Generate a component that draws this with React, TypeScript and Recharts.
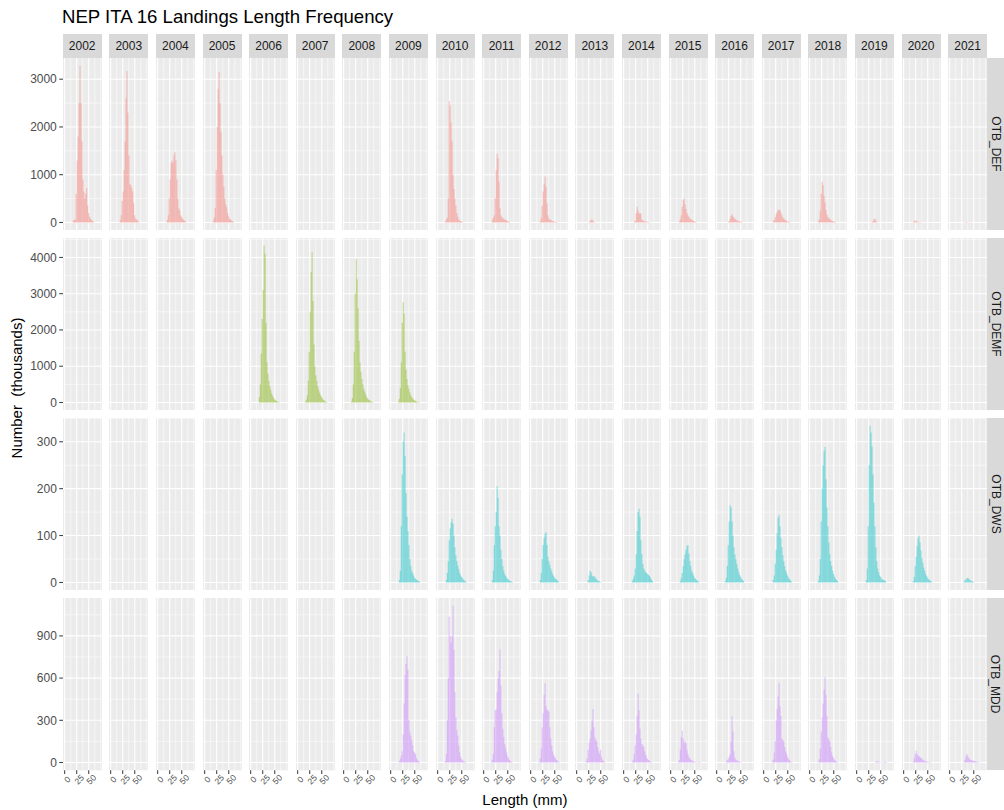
import React from "react";
import { BarChart, Bar, XAxis, YAxis, CartesianGrid } from "recharts";

// facets
const YEARS = [2002, 2003, 2004, 2005, 2006, 2007, 2008, 2009, 2010, 2011,
  2012, 2013, 2014, 2015, 2016, 2017, 2018, 2019, 2020, 2021];
const GEARS = ["OTB_DEF", "OTB_DEMF", "OTB_DWS", "OTB_MDD"];

// length classes (mm), 2 mm bins
const LENGTHS = [16, 18, 20, 22, 24, 26, 28, 30, 32, 34, 36, 38, 40, 42, 44, 46, 48, 50, 52, 54, 56, 58, 60, 62];

// numbers (thousands) per length class
const OTB_DEF: Record<number, number[]> = {
  2002: [0, 40, 50, 60, 600, 1300, 1800, 2500, 3280, 2500, 1700, 900, 650, 500, 600, 720, 350, 200, 120, 80, 50, 30, 20, 0],
  2003: [0, 0, 50, 150, 450, 650, 1100, 1700, 2600, 3170, 2300, 1400, 800, 780, 720, 650, 400, 150, 80, 60, 40, 20, 0, 0],
  2004: [0, 0, 50, 150, 500, 900, 1250, 1300, 1250, 1400, 1470, 1300, 900, 500, 300, 250, 150, 120, 80, 60, 40, 20, 0, 0],
  2005: [0, 30, 100, 300, 1100, 2000, 2800, 3150, 2500, 1900, 1400, 1000, 750, 500, 380, 320, 200, 130, 80, 60, 40, 30, 10, 0],
  2010: [20, 60, 100, 500, 2540, 2450, 2100, 1700, 1000, 700, 500, 350, 200, 120, 60, 40, 30, 20, 10, 0, 0, 0, 0, 0],
  2011: [0, 40, 100, 150, 500, 1100, 1440, 1350, 850, 300, 150, 120, 90, 70, 60, 50, 40, 30, 20, 10, 0, 0, 0, 0],
  2012: [0, 0, 30, 100, 350, 650, 800, 960, 750, 400, 150, 80, 60, 50, 40, 30, 20, 20, 10, 10, 5, 0, 0, 0],
  2013: [0, 0, 0, 0, 0, 10, 30, 55, 60, 40, 15, 5, 0, 0, 0, 0, 0, 0, 0, 0, 0, 0, 0, 0],
  2014: [0, 0, 0, 10, 40, 200, 330, 250, 180, 200, 180, 60, 40, 30, 25, 20, 15, 10, 10, 5, 0, 0, 0, 0],
  2015: [0, 20, 60, 150, 330, 470, 500, 380, 280, 200, 150, 120, 90, 70, 50, 40, 30, 20, 10, 5, 0, 0, 0, 0],
  2016: [0, 0, 0, 0, 10, 30, 80, 140, 170, 130, 100, 80, 60, 45, 35, 25, 20, 15, 10, 5, 0, 0, 0, 0],
  2017: [0, 0, 20, 50, 110, 170, 220, 260, 270, 260, 210, 150, 110, 80, 60, 45, 30, 20, 15, 10, 5, 0, 0, 0],
  2018: [0, 20, 60, 250, 600, 850, 780, 560, 420, 260, 170, 120, 90, 70, 50, 40, 30, 20, 15, 10, 0, 0, 0, 0],
  2019: [0, 0, 0, 0, 0, 0, 0, 0, 10, 30, 70, 80, 40, 15, 5, 0, 0, 0, 0, 0, 0, 0, 0, 0],
  2020: [0, 0, 10, 25, 40, 35, 20, 10, 8, 5, 5, 3, 0, 0, 0, 0, 0, 0, 0, 0, 0, 0, 0, 0],
  2021: [0, 0, 0, 0, 0, 0, 0, 3, 5, 8, 8, 6, 5, 4, 3, 2, 0, 0, 0, 0, 0, 0, 0, 0],
};

const OTB_DEMF: Record<number, number[]> = {
  2006: [0, 150, 500, 1350, 2300, 3100, 4320, 4100, 2200, 1100, 800, 600, 450, 350, 250, 180, 120, 80, 60, 40, 25, 15, 5, 0],
  2007: [30, 80, 200, 600, 1400, 2500, 3600, 4150, 2800, 1600, 1000, 750, 600, 450, 350, 270, 200, 150, 100, 70, 50, 30, 15, 5],
  2008: [30, 120, 500, 1400, 3000, 3960, 3400, 2600, 1700, 1100, 850, 650, 500, 380, 300, 220, 160, 110, 80, 60, 40, 25, 15, 5],
  2009: [20, 100, 400, 1100, 2200, 2770, 2450, 1400, 900, 650, 480, 380, 280, 200, 150, 110, 80, 60, 40, 30, 20, 10, 5, 0],
};

const OTB_DWS: Record<number, number[]> = {
  2009: [0, 5, 25, 120, 230, 300, 320, 270, 190, 140, 110, 80, 50, 35, 25, 20, 15, 10, 8, 6, 4, 3, 2, 0],
  2010: [0, 5, 20, 45, 90, 115, 128, 136, 126, 100, 75, 58, 46, 36, 28, 20, 15, 12, 9, 6, 4, 2, 1, 0],
  2011: [0, 5, 25, 80, 120, 150, 205, 180, 120, 100, 70, 50, 35, 25, 18, 14, 10, 8, 6, 4, 3, 2, 1, 0],
  2012: [0, 0, 5, 20, 50, 80, 95, 104, 107, 80, 55, 45, 38, 30, 24, 18, 14, 10, 8, 6, 4, 2, 0, 0],
  2013: [0, 0, 0, 0, 5, 15, 25, 22, 15, 12, 14, 12, 9, 6, 4, 3, 2, 1, 0, 0, 0, 0, 0, 0],
  2014: [0, 3, 8, 15, 30, 60, 110, 150, 157, 140, 90, 60, 40, 30, 25, 22, 20, 18, 16, 14, 10, 6, 3, 0],
  2015: [0, 0, 3, 10, 20, 35, 50, 60, 70, 78, 80, 62, 45, 35, 25, 20, 15, 10, 8, 5, 3, 2, 0, 0],
  2016: [0, 3, 10, 35, 80, 130, 165, 160, 130, 100, 75, 60, 50, 40, 30, 22, 16, 12, 8, 5, 3, 0, 0, 0],
  2017: [0, 0, 5, 15, 40, 70, 105, 138, 144, 120, 95, 75, 58, 45, 35, 26, 20, 15, 10, 7, 4, 2, 0, 0],
  2018: [0, 3, 15, 50, 130, 200, 250, 280, 289, 220, 160, 120, 85, 60, 45, 35, 25, 18, 12, 8, 5, 3, 0, 0],
  2019: [0, 0, 5, 30, 120, 250, 334, 320, 290, 230, 170, 120, 75, 45, 30, 22, 15, 12, 8, 6, 5, 4, 3, 0],
  2020: [0, 0, 3, 12, 35, 55, 78, 95, 100, 85, 68, 52, 42, 32, 25, 18, 14, 10, 7, 5, 3, 2, 0, 0],
  2021: [0, 0, 0, 0, 0, 0, 0, 2, 4, 7, 9, 10, 8, 5, 4, 3, 2, 1, 0, 0, 0, 0, 0, 0],
};

const OTB_MDD: Record<number, number[]> = {
  2009: [0, 10, 25, 50, 80, 200, 420, 620, 700, 757, 660, 300, 220, 190, 160, 120, 80, 70, 60, 30, 15, 8, 4, 0],
  2010: [10, 60, 300, 600, 1036, 900, 850, 900, 1114, 800, 500, 320, 230, 190, 120, 70, 40, 25, 15, 10, 6, 4, 2, 0],
  2011: [5, 20, 60, 250, 370, 380, 500, 600, 650, 805, 550, 350, 240, 180, 130, 100, 70, 45, 30, 18, 10, 5, 2, 0],
  2012: [0, 5, 30, 100, 250, 350, 480, 564, 400, 370, 375, 360, 250, 170, 120, 80, 55, 40, 28, 18, 10, 5, 2, 0],
  2013: [0, 0, 10, 30, 90, 140, 170, 230, 300, 381, 250, 180, 160, 150, 110, 80, 60, 90, 40, 20, 10, 5, 0, 0],
  2014: [0, 5, 20, 60, 120, 200, 330, 488, 370, 240, 170, 130, 120, 110, 80, 55, 35, 25, 18, 12, 6, 3, 0, 0],
  2015: [5, 20, 90, 180, 226, 170, 140, 150, 135, 90, 60, 40, 30, 20, 15, 10, 8, 5, 3, 2, 2, 4, 3, 3],
  2016: [0, 0, 5, 15, 25, 40, 60, 150, 329, 220, 80, 35, 20, 15, 10, 8, 5, 3, 2, 0, 0, 0, 0, 0],
  2017: [0, 5, 20, 70, 150, 300, 380, 470, 564, 400, 330, 170, 160, 150, 110, 80, 60, 40, 25, 15, 8, 4, 2, 0],
  2018: [0, 5, 25, 100, 220, 320, 420, 520, 607, 480, 330, 180, 165, 150, 110, 70, 45, 30, 20, 12, 6, 3, 0, 0],
  2019: [0, 0, 0, 0, 0, 0, 0, 0, 0, 0, 0, 0, 5, 8, 8, 5, 3, 2, 2, 2, 3, 4, 5, 3],
  2020: [0, 0, 5, 30, 60, 83, 60, 48, 45, 38, 32, 28, 20, 15, 10, 8, 6, 5, 4, 3, 2, 1, 0, 0],
  2021: [0, 0, 0, 0, 0, 0, 0, 5, 20, 45, 60, 45, 30, 22, 18, 15, 12, 12, 10, 8, 6, 4, 3, 2],
};

// axis breaks
const Y_TICKS: Record<string, number[]> = {
  OTB_DEF: [0, 1000, 2000, 3000],
  OTB_DEMF: [0, 1000, 2000, 3000, 4000],
  OTB_DWS: [0, 100, 200, 300],
  OTB_MDD: [0, 300, 600, 900],
};
const X_TICKS = [0, 25, 50];

const SERIES: Record<string, Record<number, number[]>> = { OTB_DEF, OTB_DEMF, OTB_DWS, OTB_MDD };
const FILL: Record<string, string> = {
  OTB_DEF: "#F8766D", OTB_DEMF: "#7CAE00", OTB_DWS: "#00BFC4", OTB_MDD: "#C77CFF",
};

// layout (px)
const X0 = 62.7, PW = 39, STEP = 46.6;
const Y0 = 57.7, PH = 172.3, RSTEP = 180;
const STRIP = 23.7, YW = 50, XH = 30;
const X_DOMAIN: [number, number] = [-3.5, 77.5];
const FONT = '"Liberation Sans", Arial, Helvetica, sans-serif';

// ggplot-like minor breaks: midpoints plus the extended end break
function minorBreaks(ticks: number[], lo: number, hi: number) {
  const step = ticks[1] - ticks[0];
  const ext = [ticks[0] - step, ...ticks, ticks[ticks.length - 1] + step];
  const out: number[] = [];
  for (let i = 0; i < ext.length - 1; i++) out.push((ext[i] + ext[i + 1]) / 2);
  out.push(ext[ext.length - 1]);
  return out.filter(v => v > lo && v < hi);
}

function yDomain(gear: string): [number, number] {
  const m = Math.max(...Object.values(SERIES[gear]).flat());
  return [-0.05 * m, 1.05 * m];
}

const XTick = (props: any) => {
  const { x, y, payload } = props;
  return (
    <text x={0} y={0} textAnchor="middle" dominantBaseline="central" fontSize={8.5} fill="#4D4D4D"
      transform={`translate(${x + 2.5},${y + 3.5}) rotate(-45)`}>
      {payload.value}
    </text>
  );
};

function Panel({ gear, year, r, c }: { gear: string; year: number; r: number; c: number }) {
  const vals = SERIES[gear][year];
  const data = LENGTHS.map((len, i) => ({ len, n: vals ? vals[i] : null }));
  const [lo, hi] = yDomain(gear);
  const yt = Y_TICKS[gear];
  const showY = c === 0;
  const showX = r === GEARS.length - 1;
  const left = X0 + c * STEP - (showY ? YW : 0);
  const top = Y0 + r * RSTEP;
  const w = PW + (showY ? YW : 0);
  const h = PH + (showX ? XH : 0);

  return (
    <div style={{ position: "absolute", left, top, width: w, height: h }}>
      <BarChart width={w} height={h} data={data} margin={{ top: 0, right: 0, bottom: 0, left: 0 }}>
        <CartesianGrid fill="#EBEBEB" fillOpacity={1} stroke="#FFFFFF" strokeWidth={0.55} strokeDasharray=""
          horizontalValues={minorBreaks(yt, lo, hi)} verticalValues={minorBreaks(X_TICKS, X_DOMAIN[0], X_DOMAIN[1])} />
        <CartesianGrid stroke="#FFFFFF" strokeWidth={1.1} horizontalValues={yt} verticalValues={X_TICKS} />
        <XAxis type="number" dataKey="len" domain={X_DOMAIN} ticks={X_TICKS} allowDataOverflow interval={0}
          hide={!showX} height={XH} axisLine={false} tickSize={3.7} tickLine={{ stroke: "#333333" }} tick={<XTick />} />
        <YAxis type="number" domain={[lo, hi]} ticks={yt} allowDataOverflow interval={0}
          hide={!showY} width={YW} axisLine={false} tickSize={3.7} tickMargin={2.5}
          tickLine={{ stroke: "#333333" }} tick={{ fontSize: 12, fill: "#4D4D4D" }} />
        {vals && (
          <Bar dataKey="n" fill={FILL[gear]} fillOpacity={0.55} barSize={0.85} isAnimationActive={false} />
        )}
      </BarChart>
    </div>
  );
}

export default function App() {
  return (
    <div style={{ position: "absolute", left: 0, top: 0, width: 1004, height: 810, background: "#FFFFFF",
      overflow: "hidden", fontFamily: FONT }}>
      <div style={{ position: "absolute", left: 62, top: 5, fontSize: 18.6, color: "#000000", whiteSpace: "nowrap", lineHeight: "24px" }}>
        NEP ITA 16 Landings Length Frequency
      </div>

      {YEARS.map((year, c) => (
        <div key={year} style={{ position: "absolute", left: X0 + c * STEP, top: Y0 - STRIP, width: PW, height: STRIP,
          background: "#D9D9D9", color: "#1A1A1A", fontSize: 12, display: "flex", alignItems: "center", justifyContent: "center" }}>
          {year}
        </div>
      ))}

      {GEARS.map((gear, r) => (
        <div key={gear} style={{ position: "absolute", left: X0 + 19 * STEP + PW, top: Y0 + r * RSTEP, width: 1004 - (X0 + 19 * STEP + PW), height: PH,
          background: "#D9D9D9", color: "#1A1A1A", fontSize: 12, display: "flex", alignItems: "center", justifyContent: "center" }}>
          <span style={{ transform: "rotate(90deg)", whiteSpace: "nowrap", lineHeight: "12px" }}>{gear}</span>
        </div>
      ))}

      {GEARS.map((gear, r) =>
        YEARS.map((year, c) => <Panel key={gear + year} gear={gear} year={year} r={r} c={c} />)
      )}

      <div style={{ position: "absolute", left: 17 - 100, top: 388 - 10, width: 200, height: 20, transform: "rotate(-90deg)",
        textAlign: "center", fontSize: 15, color: "#000000", whiteSpace: "pre", lineHeight: "20px" }}>
        {"Number  (thousands)"}
      </div>
      <div style={{ position: "absolute", left: X0, top: 790, width: 19 * STEP + PW, textAlign: "center", fontSize: 15,
        color: "#000000", lineHeight: "20px" }}>
        Length (mm)
      </div>
    </div>
  );
}
